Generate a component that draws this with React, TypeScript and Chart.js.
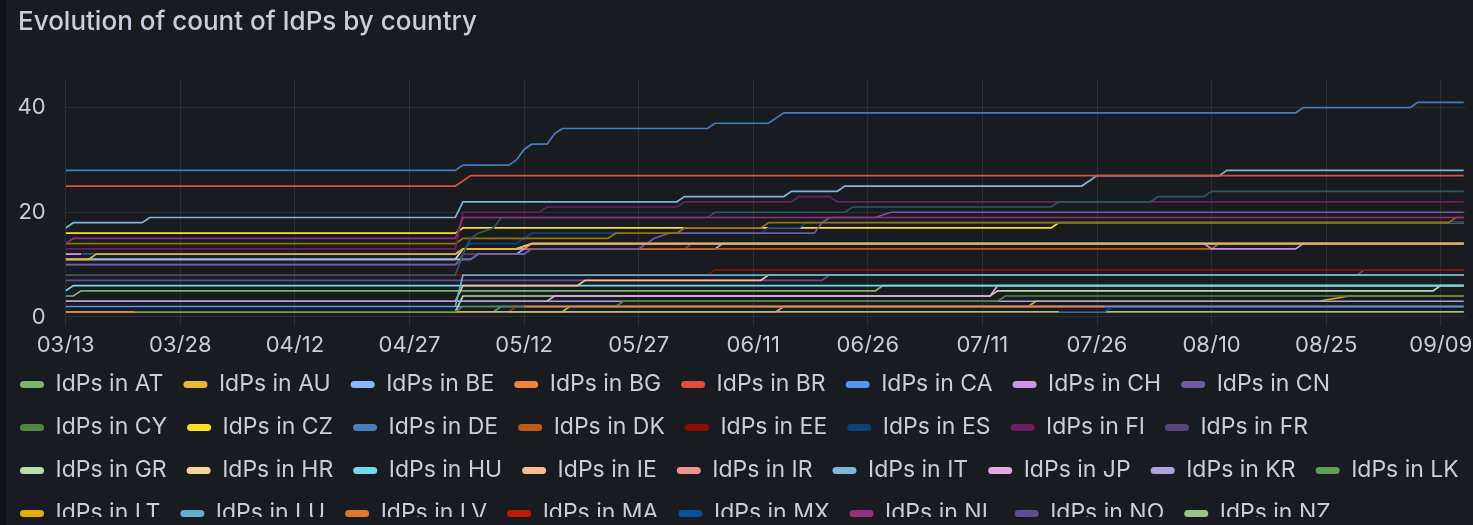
import React, { useEffect, useRef } from "react";
import { Chart, registerables } from "chart.js";

Chart.register(...registerables);

const TITLE = "Evolution of count of IdPs by country";
const START_DATE: [number, number, number] = [2023, 2, 13];
const X_TICK_DAYS = [0, 15, 30, 45, 60, 75, 90, 105, 120, 135, 150, 165, 180];
const Y_TICK_VALUES = [0, 20, 40];

// [day since 03/13, count]; null = gap
const AT = [[0, 4], [1, 4], [2, 5], [106, 5], [107, 6], [183, 6]];
const AU = [[0, 11], [3, 11], [4, 12], [51, 12], [52, 13], [59, 13], [61, 14], [183, 14]];
const BE = [[0, 11], [53, 11], [54, 12], [59, 12], [60, 13], [85, 13], [86, 14], [183, 14]];
const BG = [[0, 1], [9, 1], [9.5, null], [60, 2], [136, 2]];
const BR = [[0, 25], [51, 25], [52, 26], [53, 27], [183, 27]];
const CA = [[0, 2], [183, 2]];
const CH = [[0, 12], [51, 12], [52, 13], [60, 13], [61, 14], [149, 14], [150, 13], [161, 13], [162, 14], [183, 14]];
const CN = [[0, 10], [51, 10], [52, 11], [53, 11], [54, 12], [60, 12], [61, 13], [75, 13], [76, 14], [77, 15], [79, 16], [98, 16], [99, 18], [100, 19], [106, 19], [108, 20], [183, 20]];
const CY = [[0, 1], [51, 1], [52, 2], [72, 2], [73, 3], [122, 3], [123, 4], [183, 4]];
const CZ = [[0, 16], [51, 16], [52, 17], [129, 17], [130, 18], [183, 18]];
const DE = [[0, 28], [51, 28], [52, 29], [58, 29], [59, 30], [60, 32], [61, 33], [63, 33], [64, 35], [65, 36], [84, 36], [85, 37], [92, 37], [94, 39], [161, 39], [162, 40], [176, 40], [177, 41], [183, 41]];
const DK = [[0, 12], [51, 12], [52, 13], [150, 13], [151, 14], [183, 14]];
const EE = [[0, 8], [84, 8], [85, 9], [183, 9]];
const ES = [[2, 12], [51, 12], [52, 13], [53, 14], [59, 14], [60, 15], [61, 16], [91, 16], [92, 17], [96, 17], [97, 18], [183, 18]];
const FI = [[0, 13], [51, 13], [52, 20], [62, 20], [63, 21], [80, 21], [81, 22], [95, 22], [96, 23], [100, 23], [101, 22], [183, 22]];
const FR = [[0, 10], [51, 10], [52, 12], [60, 12], [61, 13], [81, 13], [82, 14], [183, 14]];
const GR = [[0, 1], [51, 1], [52, 4], [121, 4], [122, 5], [179, 5], [180, 6], [183, 6]];
const HR = [[0, 11], [51, 11], [52, 13], [59, 13], [61, 14], [183, 14]];
const HU = [[0, 5], [1, 6], [183, 6]];
const IE = [[51, 3], [52, 6], [67, 6], [68, 7], [91, 7], [92, 8], [183, 8]];
const IR = [[0, 1], [93, 1], [94, 2], [183, 2]];
const IT = [[0, 17], [1, 18], [10, 18], [11, 19], [51, 19], [52, 22], [80, 22], [81, 23], [94, 23], [95, 24], [101, 24], [102, 25], [133, 25], [135, 27], [151, 27], [152, 28], [183, 28]];
const JP = [[0, 3], [63, 3], [64, 4], [121, 4], [122, 6], [183, 6]];
const KR = [[0, 3], [183, 3]];
const LK = [[0, 1], [56, 1], [57, 2], [183, 2]];
const LT = [[0, 1], [65, 1], [66, 2], [126, 2], [127, 3], [164, 3], [168, 4], [183, 4]];
const LU = [[51, 2], [52, 8], [183, 8]];
const LV = [[52, 1], [183, 1]];
const MA = [[52, 1], [58, 1], [59, 2], [183, 2]];
const MX = [[130, 1], [136, 1], [137, 2], [183, 2]];
const NL = [[0, 14], [1, 15], [51, 15], [52, 19], [183, 19]];
const NO = [[0, 7], [99, 7], [100, 8], [169, 8], [170, 9], [183, 9]];
const NZ = [[52, 1], [183, 1]];
const PL = [[0, 14], [51, 14], [52, 15], [71, 15], [72, 16], [80, 16], [81, 17], [91, 17], [92, 18], [181, 18], [182, 19], [183, 19]];
const PT = [[0, 8], [51, 8], [52, 12], [53, 15], [54, 16], [56, 17], [57, 19], [84, 19], [85, 20], [102, 20], [103, 21], [129, 21], [130, 22], [142, 22], [143, 23], [149, 23], [150, 24], [183, 24]];

const COUNTRIES = ["AT", "AU", "BE", "BG", "BR", "CA", "CH", "CN", "CY", "CZ", "DE", "DK", "EE", "ES", "FI", "FR", "GR", "HR", "HU", "IE", "IR", "IT", "JP", "KR", "LK", "LT", "LU", "LV", "MA", "MX", "NL", "NO", "NZ", "PL", "PT"];
const SERIES_POINTS = [AT, AU, BE, BG, BR, CA, CH, CN, CY, CZ, DE, DK, EE, ES, FI, FR, GR, HR, HU, IE, IR, IT, JP, KR, LK, LT, LU, LV, MA, MX, NL, NO, NZ, PL, PT];
const LEGEND_HIDDEN = ["PL", "PT"];

// styling (kept separate from the data)
const COLORS = ["#7EB26D", "#EAB839", "#8AB8FF", "#EF843C", "#E24D42", "#5794F2", "#CA95E5", "#705DA0", "#508642", "#FADE2A", "#447EBC", "#C15C17", "#890F02", "#0A437C", "#6D1F62", "#584477", "#B7DBAB", "#F4D598", "#70DBED", "#F9BA8F", "#F29191", "#82B5D8", "#E5A8E2", "#AEA2E0", "#629E51", "#E5AC0E", "#64B0C8", "#E0752D", "#BF1B00", "#0A50A1", "#962D82", "#614D93", "#9AC48A", "#967302", "#2F575E"];
const LAYERS = [14, 28, 22, 13, 34, 8, 24, 27, 12, 25, 35, 23, 17, 26, 30, 21, 9, 20, 15, 18, 2, 33, 10, 11, 3, 4, 19, 1, 5, 7, 32, 16, 6, 29, 31];

const TEXT = "#ccccdc";
const GRID = "rgba(240,250,255,0.09)";
const FONT = "Inter, 'Noto Sans', sans-serif";

function dayLabel(d: number) {
  const dt = new Date(Date.UTC(START_DATE[0], START_DATE[1], START_DATE[2] + d));
  const mm = String(dt.getUTCMonth() + 1).padStart(2, "0");
  const dd = String(dt.getUTCDate()).padStart(2, "0");
  return `${mm}/${dd}`;
}

export default function App() {
  const ref = useRef<HTMLCanvasElement | null>(null);

  useEffect(() => {
    if (!ref.current) return;
    const datasets = COUNTRIES.map((c, i) => ({
      label: `IdPs in ${c}`,
      data: SERIES_POINTS[i].map(([x, y]) => ({ x, y })),
      borderColor: COLORS[i],
      backgroundColor: COLORS[i],
      borderWidth: 1.7,
      pointRadius: 0,
      tension: 0,
      order: -LAYERS[i],
    }));
    const defaultLabels = (Chart as any).defaults.plugins.legend.labels.generateLabels;
    const chart = new Chart(ref.current, {
      type: "line",
      data: { datasets: datasets as any },
      options: {
        responsive: false,
        animation: false,
        events: [],
        spanGaps: false,
        layout: { padding: { top: 80, left: 0, right: 0, bottom: 0 } },
        scales: {
          x: {
            type: "linear",
            min: 0,
            max: 183.3,
            afterBuildTicks: (s: any) => { s.ticks = X_TICK_DAYS.map((v) => ({ value: v })); },
            afterFit: (s: any) => { s.height = 27.5; },
            ticks: {
              color: TEXT,
              font: { family: FONT, size: 22 },
              padding: 7,
              maxRotation: 0,
              autoSkip: false,
              callback: (v: any) => dayLabel(Number(v)),
            },
            grid: { color: GRID, drawTicks: false },
            border: { display: false },
          },
          y: {
            type: "linear",
            min: -1.63,
            max: 45.26,
            afterBuildTicks: (s: any) => { s.ticks = Y_TICK_VALUES.map((v) => ({ value: v })); },
            afterFit: (s: any) => { s.width = 65.7; },
            ticks: {
              color: TEXT,
              font: { family: FONT, size: 22 },
              padding: 20,
            },
            grid: { color: GRID, drawTicks: false },
            border: { display: false },
          },
          yRightGap: {
            type: "linear",
            position: "right",
            display: true,
            afterFit: (s: any) => { s.width = 14; },
            ticks: { display: false },
            grid: { display: false, drawTicks: false },
            border: { display: false },
          },
        },
        plugins: {
          title: { display: false },
          tooltip: { enabled: false },
          legend: {
            display: true,
            position: "bottom",
            align: "start",
            labels: {
              color: TEXT,
              font: { family: FONT, size: 23 },
              boxWidth: 24,
              boxHeight: 7,
              padding: 20,
              useBorderRadius: true,
              borderRadius: 3.5,
              sort: (a: any, b: any) => a.datasetIndex - b.datasetIndex,
              filter: (item: any) => !LEGEND_HIDDEN.includes(COUNTRIES[item.datasetIndex]),
              generateLabels: (ch: any) =>
                defaultLabels(ch).map((l: any) => ({ ...l, lineWidth: 0, fillStyle: COLORS[l.datasetIndex] })),
            },
          },
        },
      } as any,
    });
    return () => chart.destroy();
  }, []);

  return (
    <div style={{ position: "fixed", left: 0, top: 0, width: "100vw", height: "100vh", background: "#111217", overflow: "hidden" }}>
      <div style={{ position: "absolute", left: 6, top: 0, right: 0, height: 525, background: "#181b1f" }} />
      <div style={{ position: "absolute", left: 0, top: 0, width: 1473, height: 517, overflow: "hidden" }}>
        <canvas ref={ref} width={1480} height={535} style={{ display: "block", width: 1480, height: 535 }} />
      </div>
      <div
        style={{
          position: "absolute",
          left: 18,
          top: 6,
          fontFamily: FONT,
          fontSize: 26,
          fontWeight: 500,
          lineHeight: "30px",
          color: TEXT,
          whiteSpace: "nowrap",
        }}
      >
        {TITLE}
      </div>
    </div>
  );
}
